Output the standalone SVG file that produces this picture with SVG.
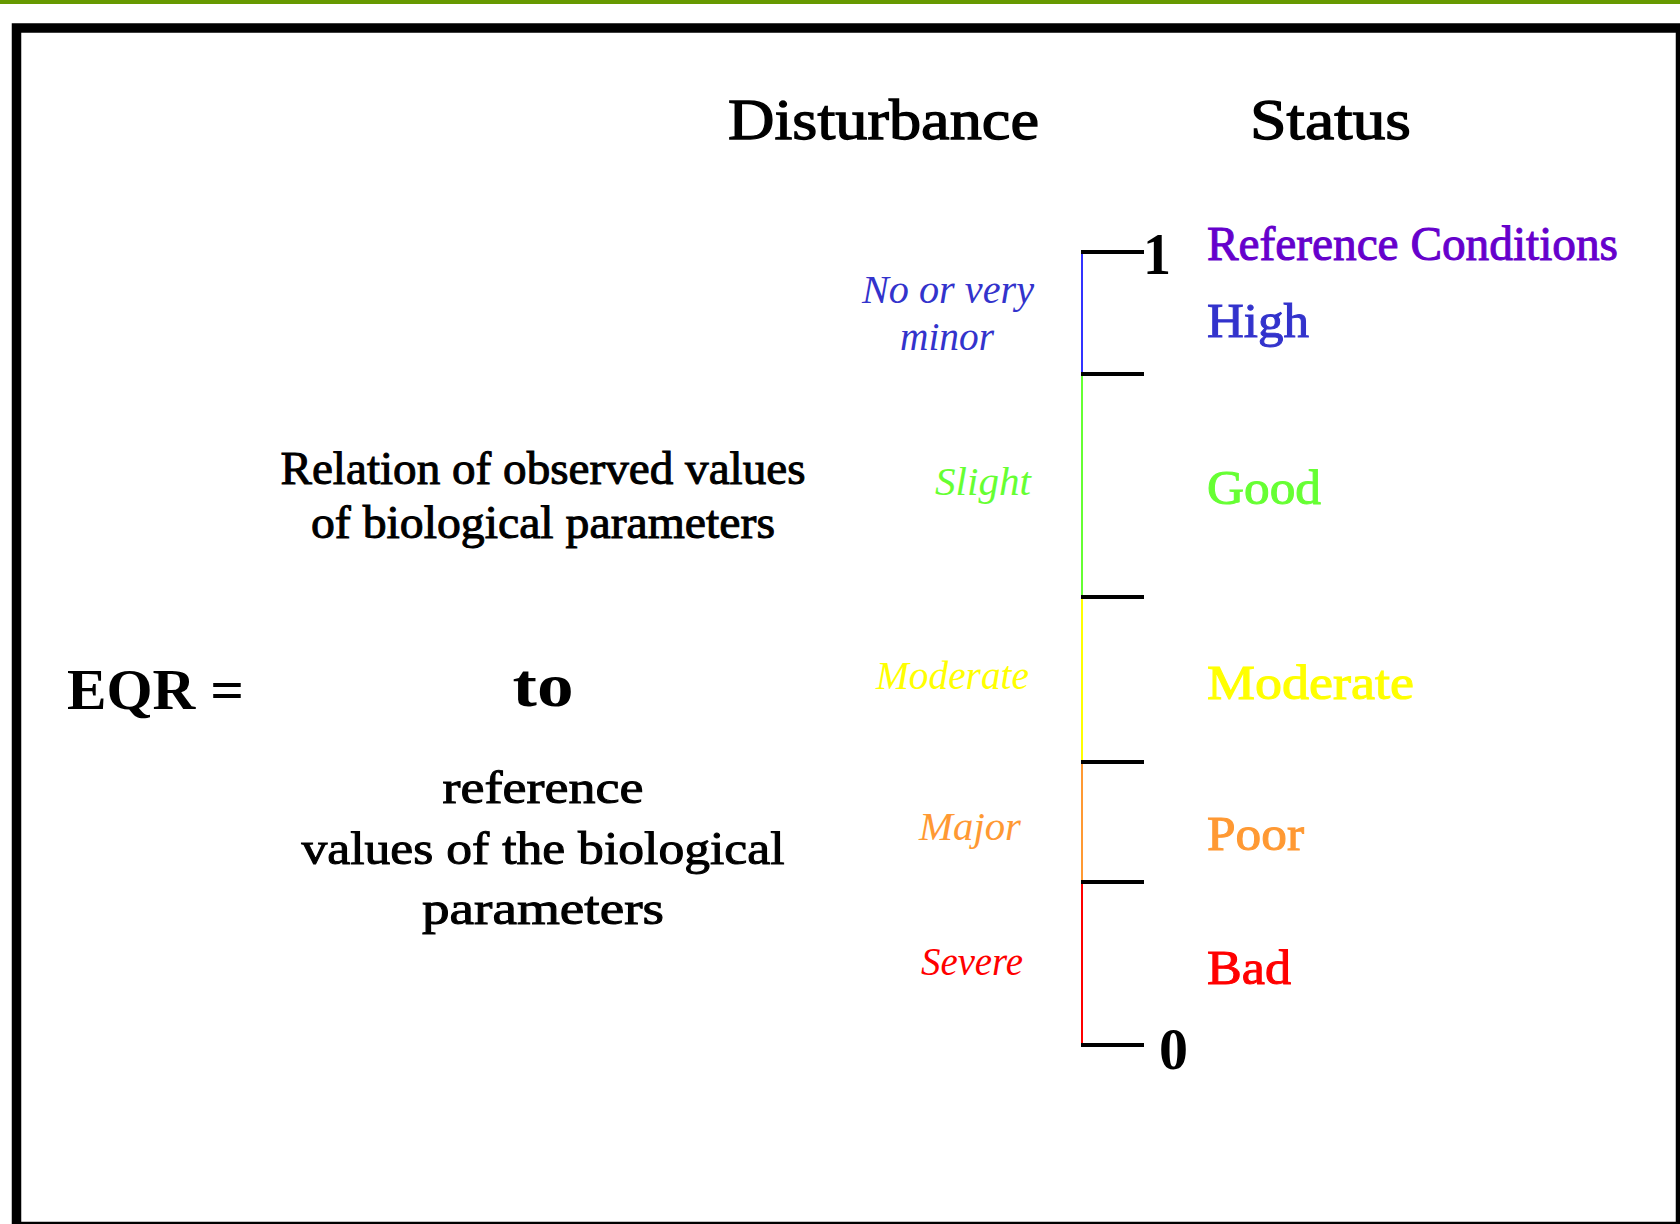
<svg xmlns="http://www.w3.org/2000/svg" width="1680" height="1224" viewBox="0 0 1680 1224">
<style>
text{font-family:"Liberation Serif","Times New Roman",serif;}
.h{font-size:58px;fill:#000;stroke:#000;stroke-width:1.3px;}
.st{font-size:48px;stroke-width:1px;}
.it{font-size:40px;font-style:italic;}
.lt{font-size:46px;fill:#000;stroke:#000;stroke-width:1px;text-anchor:middle;}
.b{font-weight:bold;fill:#000;}
.tick{stroke:#000;stroke-width:4;fill:none;}
.seg{stroke-width:2;fill:none;}
</style>
<rect x="0" y="0" width="1680" height="1224" fill="#fff"/>
<rect x="0" y="0" width="1680" height="4" fill="#669900"/>
<rect x="16.5" y="28" width="1664" height="1198.5" fill="none" stroke="#000" stroke-width="9.5"/>

<g id="headers">
<text class="h" x="728" y="139" textLength="311" lengthAdjust="spacingAndGlyphs">Disturbance</text>
<text class="h" x="1250" y="139" textLength="161" lengthAdjust="spacingAndGlyphs">Status</text>
</g>

<g id="scale">
<line class="seg" stroke="#3333ff" x1="1082" y1="252" x2="1082" y2="374"/>
<line class="seg" stroke="#66ff33" x1="1082" y1="374" x2="1082" y2="597"/>
<line class="seg" stroke="#ffff00" x1="1082" y1="597" x2="1082" y2="762"/>
<line class="seg" stroke="#ff9933" x1="1082" y1="762" x2="1082" y2="882"/>
<line class="seg" stroke="#ff0000" x1="1082" y1="882" x2="1082" y2="1045"/>
<line class="tick" x1="1081" y1="252" x2="1144" y2="252"/>
<line class="tick" x1="1081" y1="374" x2="1144" y2="374"/>
<line class="tick" x1="1081" y1="597" x2="1144" y2="597"/>
<line class="tick" x1="1081" y1="762" x2="1144" y2="762"/>
<line class="tick" x1="1081" y1="882" x2="1144" y2="882"/>
<line class="tick" x1="1081" y1="1045" x2="1144" y2="1045"/>
<text class="b" x="1143" y="274" font-size="60" textLength="28" lengthAdjust="spacingAndGlyphs">1</text>
<text class="b" x="1159" y="1069" font-size="60" textLength="29" lengthAdjust="spacingAndGlyphs">0</text>
</g>

<g id="status">
<text class="st" x="1207" y="260" fill="#6600cc" stroke="#6600cc" textLength="411" lengthAdjust="spacingAndGlyphs">Reference Conditions</text>
<text class="st" x="1207" y="337" fill="#3333cc" stroke="#3333cc" textLength="102" lengthAdjust="spacingAndGlyphs">High</text>
<text class="st" x="1207" y="504" fill="#66ff33" stroke="#66ff33" textLength="114" lengthAdjust="spacingAndGlyphs">Good</text>
<text class="st" x="1207" y="699" fill="#ffff00" stroke="#ffff00" textLength="207" lengthAdjust="spacingAndGlyphs">Moderate</text>
<text class="st" x="1207" y="850" fill="#ff9933" stroke="#ff9933" textLength="97" lengthAdjust="spacingAndGlyphs">Poor</text>
<text class="st" x="1207" y="984" fill="#ff0000" stroke="#ff0000" textLength="84" lengthAdjust="spacingAndGlyphs">Bad</text>
</g>

<g id="disturbance">
<text class="it" x="862" y="303" fill="#3333cc" textLength="172" lengthAdjust="spacingAndGlyphs">No or very</text>
<text class="it" x="900" y="350" fill="#3333cc" textLength="94" lengthAdjust="spacingAndGlyphs">minor</text>
<text class="it" x="935" y="495" fill="#66ff33" textLength="96" lengthAdjust="spacingAndGlyphs">Slight</text>
<text class="it" x="876" y="689" fill="#ffff00" textLength="153" lengthAdjust="spacingAndGlyphs">Moderate</text>
<text class="it" x="919" y="840" fill="#ff9933" textLength="102" lengthAdjust="spacingAndGlyphs">Major</text>
<text class="it" x="921" y="975" fill="#ff0000" textLength="102" lengthAdjust="spacingAndGlyphs">Severe</text>
</g>

<g id="formula">
<text class="b" x="67" y="709" font-size="58" textLength="177" lengthAdjust="spacingAndGlyphs">EQR =</text>
<text class="lt" x="543" y="484" textLength="525" lengthAdjust="spacingAndGlyphs">Relation of observed values</text>
<text class="lt" x="543" y="538" textLength="464" lengthAdjust="spacingAndGlyphs">of biological parameters</text>
<text class="b" x="543" y="706" font-size="62" text-anchor="middle" textLength="61" lengthAdjust="spacingAndGlyphs">to</text>
<text class="lt" x="543" y="803" textLength="201" lengthAdjust="spacingAndGlyphs">reference</text>
<text class="lt" x="543" y="864" textLength="483" lengthAdjust="spacingAndGlyphs">values of the biological</text>
<text class="lt" x="543" y="924" textLength="242" lengthAdjust="spacingAndGlyphs">parameters</text>
</g>
</svg>
